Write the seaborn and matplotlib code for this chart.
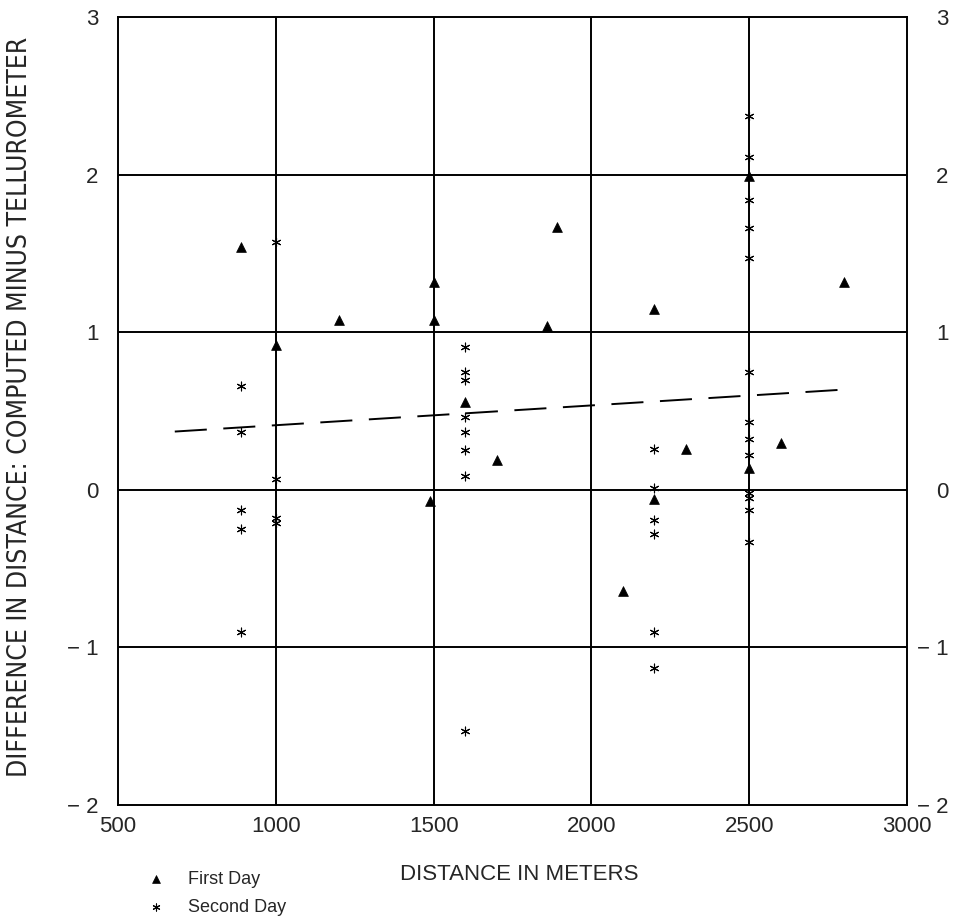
import seaborn as sns
import matplotlib.pyplot as plt
import matplotlib.transforms as mtransforms
import pandas as pd

# first day (triangles)
first_x = [890, 1000, 1200, 1500, 1500, 1490, 1600, 1700, 1860, 1890, 2100, 2200, 2200, 2300, 2500, 2500, 2600, 2800]
first_y = [1.54, 0.92, 1.08, 1.32, 1.08, -0.07, 0.56, 0.19, 1.04, 1.67, -0.64, 1.15, -0.06, 0.26, 1.99, 0.14, 0.30, 1.32]

# second day (stars)
second_x = [890, 890, 890, 890, 890,
            1000, 1000, 1000, 1000,
            1600, 1600, 1600, 1600, 1600, 1600, 1600, 1600,
            2200, 2200, 2200, 2200, 2200, 2200,
            2500, 2500, 2500, 2500, 2500, 2500, 2500, 2500, 2500, 2500, 2500, 2500, 2500]
second_y = [0.66, 0.37, -0.13, -0.25, -0.90,
            1.57, 0.07, -0.18, -0.21,
            0.905, 0.75, 0.70, 0.46, 0.37, 0.25, 0.09, -1.53,
            0.26, 0.01, -0.19, -0.28, -0.90, -1.13,
            2.37, 2.11, 1.84, 1.66, 1.47, 0.75, 0.43, 0.32, 0.22, -0.02, -0.05, -0.13, -0.33]

# dashed trend line
trend_x = [680, 2790]
trend_y = [0.37, 0.635]

x_ticks = [500, 1000, 1500, 2000, 2500, 3000]
y_ticks = [-2, -1, 0, 1, 2, 3]
y_labels = ['\u2212 2', '\u2212 1', '0', '1', '2', '3']

first = pd.DataFrame({'x': first_x, 'y': first_y})
second = pd.DataFrame({'x': second_x, 'y': second_y})

sns.set_style('white')
plt.rcParams['font.family'] = ['Liberation Sans', 'DejaVu Sans']

fig = plt.figure(figsize=(9.56, 9.19), dpi=100)
ax = fig.add_axes([0.1234, 0.124, 0.8253, 0.8574])

# grid lines
for xv in x_ticks[1:-1]:
    ax.axvline(xv, color='black', lw=1.4, zorder=1)
for yv in y_ticks[1:-1]:
    ax.axhline(yv, color='black', lw=1.4, zorder=1)

sns.lineplot(x=trend_x, y=trend_y, ax=ax, color='black', lw=1.4,
             linestyle=(0, (16.5, 8.5)), zorder=2)

sns.scatterplot(data=first, x='x', y='y', ax=ax, marker='^', s=50,
                color='black', edgecolor='black', linewidth=0.5,
                label='First Day', zorder=3)
sns.scatterplot(data=second, x='x', y='y', ax=ax, marker=(6, 2, 0), s=40,
                color='black', linewidth=0.8, label='Second Day', zorder=3)

ax.set_xlim(500, 3000)
ax.set_ylim(-2, 3)
ax.set_xticks(x_ticks)
ax.set_yticks(y_ticks)
ax.set_yticklabels(y_labels)
ax.tick_params(length=0, labelsize=16)
ax.tick_params(axis='x', pad=8)
ax.tick_params(axis='y', pad=14, right=False, labelright=True)

# right-hand labels are right aligned
shift = mtransforms.ScaledTranslation(30 / 72, 0, fig.dpi_scale_trans)
for t in ax.yaxis.get_major_ticks():
    t.label2.set_horizontalalignment('right')
    t.label2.set_transform(ax.get_yaxis_transform(which='tick2') + shift)

for sp in ax.spines.values():
    sp.set_visible(True)
    sp.set_color('black')
    sp.set_linewidth(1.4)

ax.set_xlabel('')
ax.set_ylabel('')
fig.text(0.021, 0.557, 'DIFFERENCE IN DISTANCE: COMPUTED MINUS TELLUROMETER',
         fontsize=19, family=['Liberation Sans Narrow', 'DejaVu Sans'],
         fontstretch='condensed', rotation=90, ha='center', va='center')
fig.text(0.543, 0.048, 'DISTANCE IN METERS', fontsize=16, ha='center', va='center')

handles, labels = ax.get_legend_handles_labels()
ax.legend(handles, labels, loc='upper left', bbox_to_anchor=(0.127, 0.070),
          bbox_transform=fig.transFigure, frameon=False, fontsize=13,
          handletextpad=0.8, labelspacing=0.6, markerscale=0.8)

fig.savefig('out.png', dpi=100)
